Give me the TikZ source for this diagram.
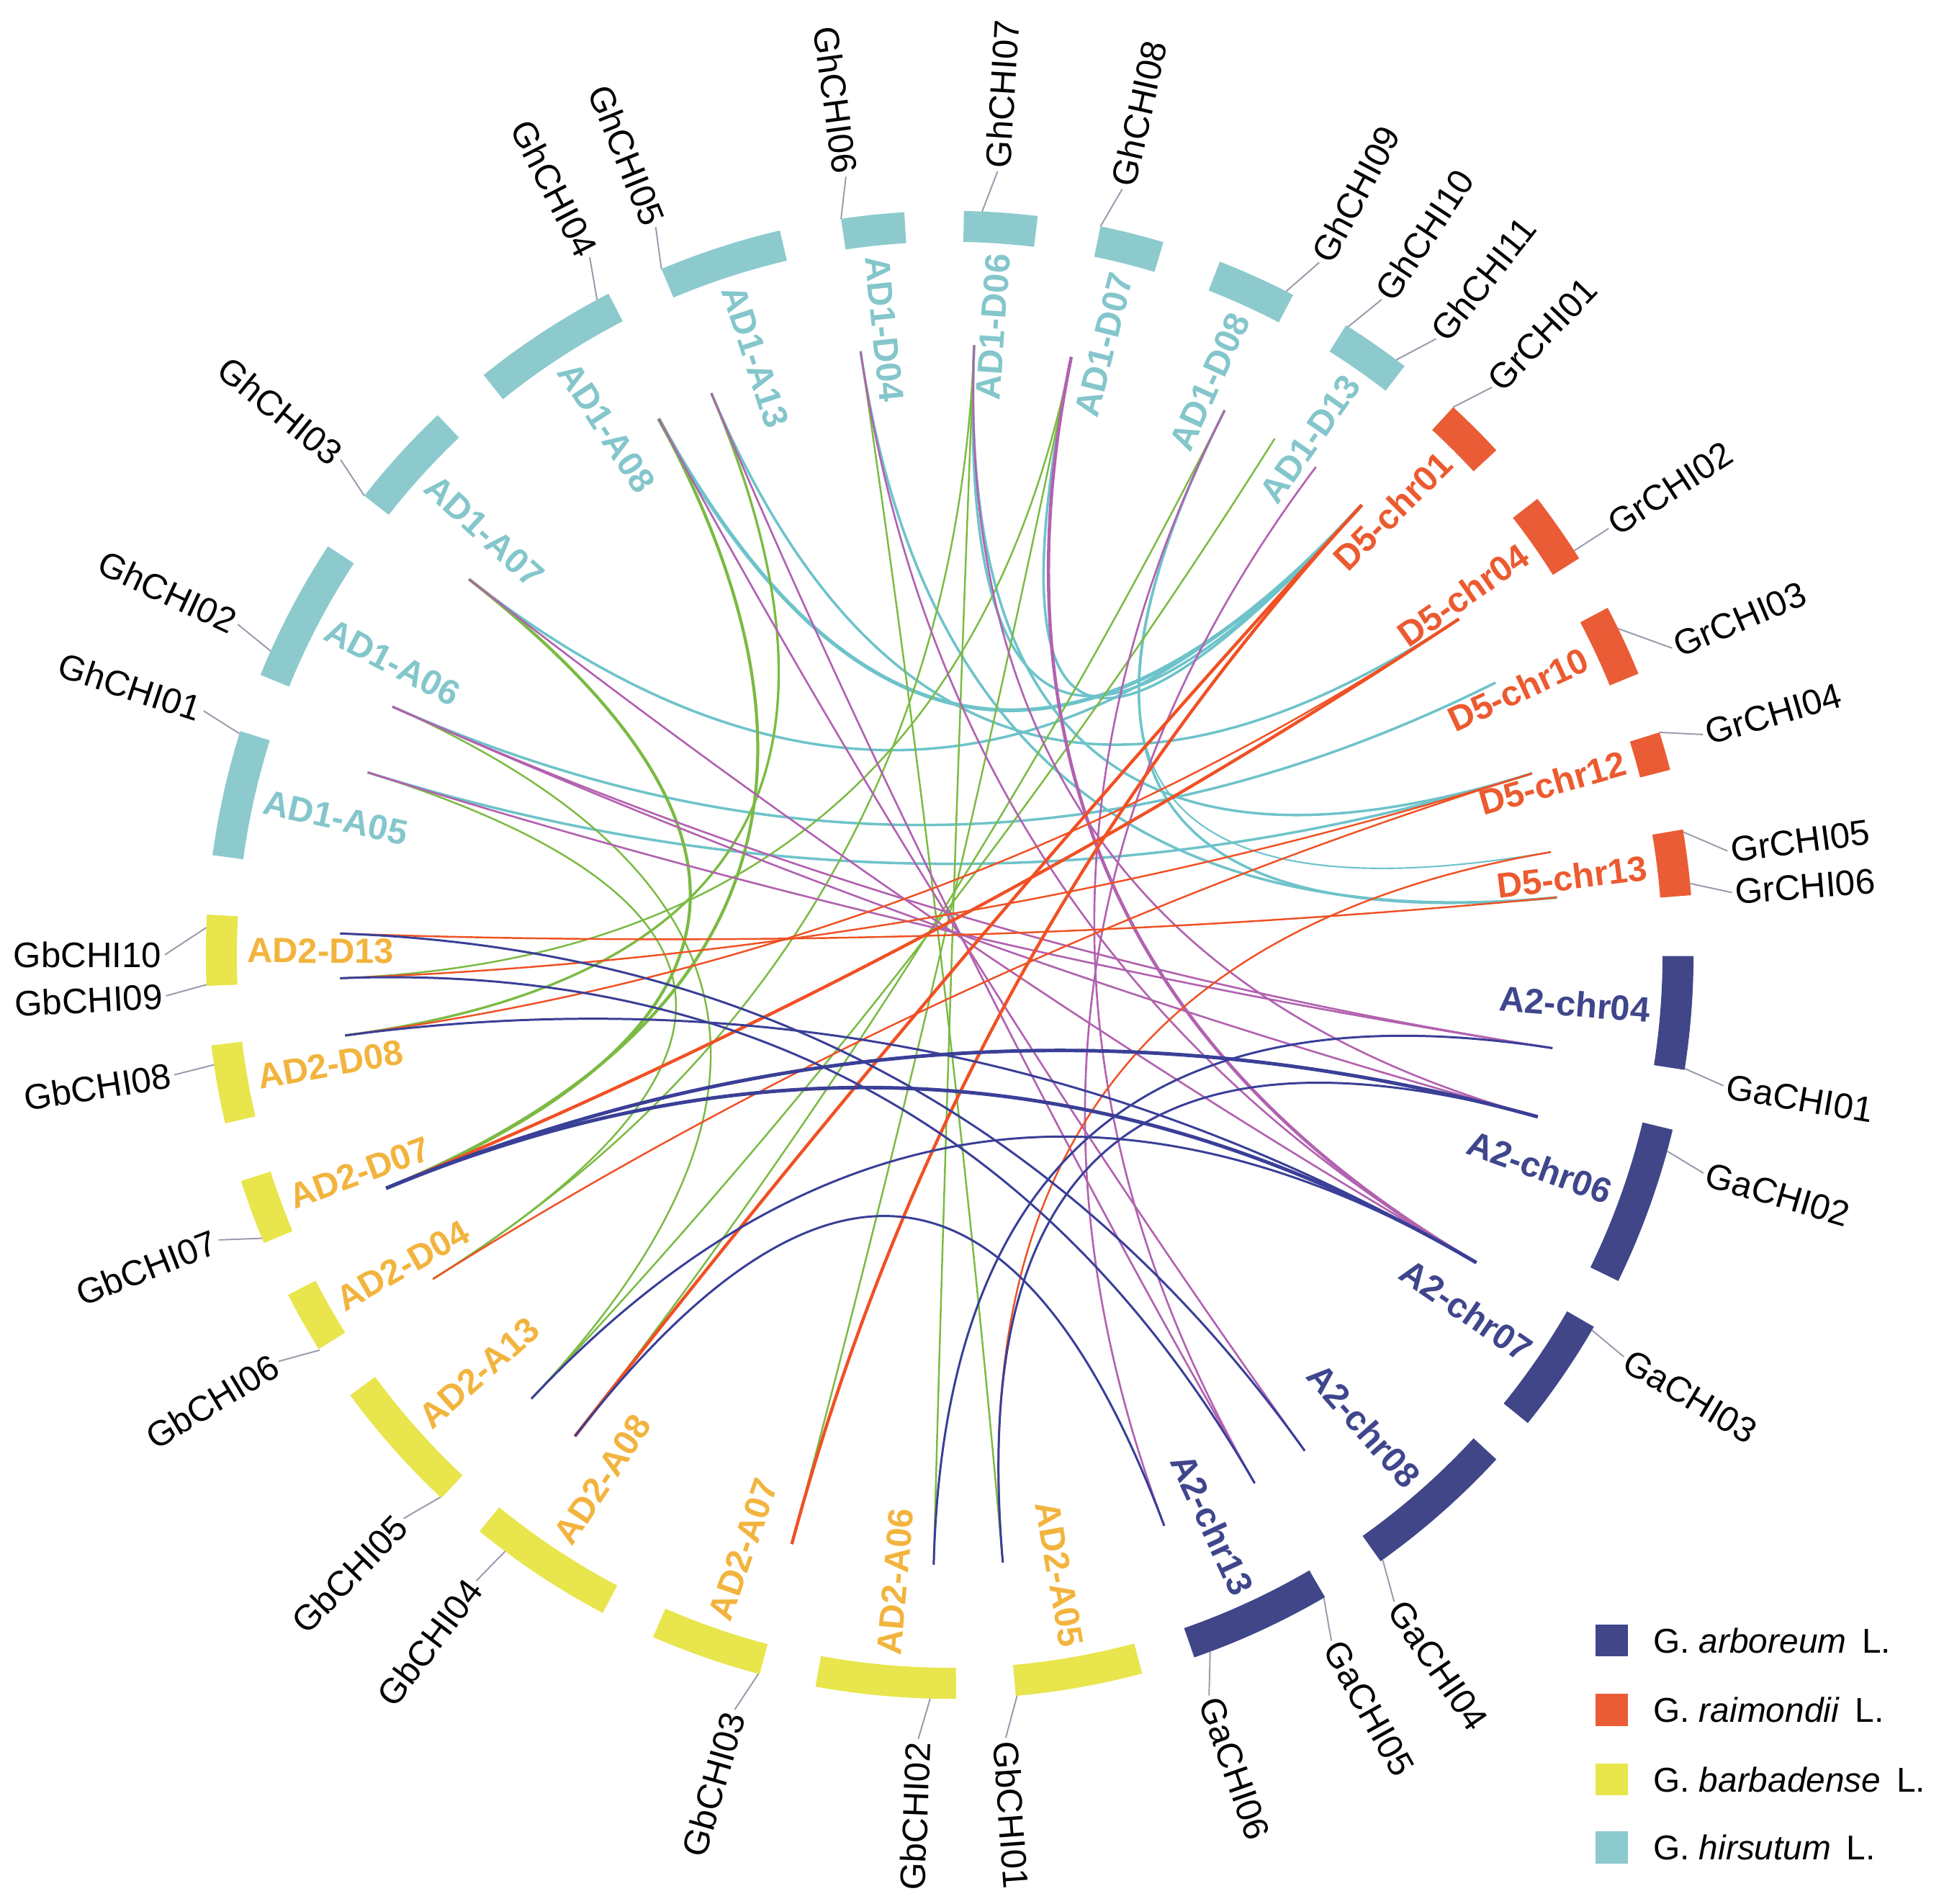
\documentclass[tikz,border=0pt]{standalone}
\usepackage{fontspec}
\setmainfont{Liberation Sans}
\usetikzlibrary{calc}
\definecolor{ghc}{HTML}{8DCACD}
\definecolor{grc}{HTML}{EA5C36}
\definecolor{gac}{HTML}{414689}
\definecolor{gbc}{HTML}{E8E54D}
\definecolor{ghtxt}{HTML}{84C6CB}
\definecolor{grtxt}{HTML}{EC5A30}
\definecolor{gatxt}{HTML}{3F468C}
\definecolor{gbtxt}{HTML}{F2B43E}
\definecolor{lteal}{HTML}{6EC3CA}
\definecolor{lgreen}{HTML}{7BBA43}
\definecolor{lpurple}{HTML}{B262B0}
\definecolor{lred}{HTML}{EF5124}
\definecolor{lblue}{HTML}{3A3F97}
\definecolor{leadc}{HTML}{9A99AC}
\tikzset{
  genet/.style={font=\fontsize{14}{16}\selectfont, inner sep=1.2pt, text=black},
  chrt/.style={font=\fontsize{13.9}{16}\selectfont\bfseries, inner sep=0pt},
  legt/.style={font=\fontsize{13.6}{16}\selectfont, inner sep=1pt, text=black},
  legsq/.style={minimum width=12.7pt, minimum height=12.7pt, inner sep=0pt, draw=none},
  leader/.style={draw=leadc, line width=0.55pt},
  lkT/.style={draw=lteal, line width=1pt},
  lkTf/.style={draw=lteal, line width=1.5pt},
  lkTt/.style={draw=lteal, line width=0.6pt},
  lkG/.style={draw=lgreen, line width=0.7pt},
  lkGm/.style={draw=lgreen, line width=0.95pt},
  lkGf/.style={draw=lgreen, line width=1.2pt},
  lkP/.style={draw=lpurple, line width=0.75pt},
  lkPf/.style={draw=lpurple, line width=1.3pt},
  lkR/.style={draw=lred, line width=0.7pt},
  lkRf/.style={draw=lred, line width=1.25pt},
  lkB/.style={draw=lblue, line width=0.85pt},
  lkBf/.style={draw=lblue, line width=1.4pt},
}
\newcommand\chrarc[3]{\fill[#3] (#1:575) arc[start angle=#1, end angle=#2, radius=575] -- (#2:600) arc[start angle=#2, end angle=#1, radius=600] -- cycle;}
\newcommand\clink[3]{\draw[#3] (#1) .. controls ($(O)!0.3333!(#1)$) and ($(O)!0.3333!(#2)$) .. (#2);}
\newcommand\geneR[4]{\coordinate (#1s) at (#2:600); \node[genet,anchor=west,rotate=#3] (#1t) at (#3:633) {#4}; \draw[leader] (#1s) -- (#1t.west);}
\newcommand\geneL[4]{\coordinate (#1s) at (#2:600); \node[genet,anchor=east,rotate=#3+180] (#1t) at (#3:633) {#4}; \draw[leader] (#1s) -- (#1t.east);}
\newcommand\chrR[4]{\node[chrt,text=#4,anchor=east,rotate=#2] (#1) at (#2:567) {#3};}
\newcommand\chrL[4]{\node[chrt,text=#4,anchor=west,rotate=#2+180] (#1) at (#2:567) {#3};}
\begin{document}
\begin{tikzpicture}[x=0.0172194cm, y=0.0172194cm]
\useasboundingbox (-766,-765) rectangle (802,770);
\coordinate (O) at (0,0);
% link ends
\coordinate (Gh01) at (162.6:492);
\coordinate (Gh02) at (156:492);
\coordinate (Gh03) at (142:492);
\coordinate (Gh04) at (118.5:492);
\coordinate (Gh05) at (113:492);
\coordinate (Gh06) at (98.4:492);
\coordinate (Gh07) at (87.7:492);
\coordinate (Gh08) at (78.5:492);
\coordinate (Gh09) at (63.2:492);
\coordinate (Gh10) at (57.8:492);
\coordinate (Gh11) at (53.1:492);
\coordinate (Gr01) at (47.5:492);
\coordinate (Gr02) at (33.4:492);
\coordinate (Gr03) at (26.5:492);
\coordinate (Gr04) at (17.3:492);
\coordinate (Gr05) at (9.7:492);
\coordinate (Gr06) at (5.4:492);
\coordinate (Ga01) at (-8.8:492);
\coordinate (Ga02) at (-15.4:492);
\coordinate (Ga03) at (-30.3:492);
\coordinate (Ga04) at (-54.4:492);
\coordinate (Ga05) at (-60:492);
\coordinate (Ga06) at (-69.4:492);
\coordinate (Gb01) at (-85:492);
\coordinate (Gb02) at (-91.5:492);
\coordinate (Gb03) at (-105:492);
\coordinate (Gb04) at (-127.9:492);
\coordinate (Gb05) at (-133.3:492);
\coordinate (Gb06) at (-147.9:492);
\coordinate (Gb07) at (-157.5:492);
\coordinate (Gb08) at (-172.4:492);
\coordinate (Gb09) at (-177.8:492);
\coordinate (Gb10) at (178:492);
% teal links
\clink{Gh03}{Gr01}{lkT}
\clink{Gh04}{Gr01}{lkTf}
\clink{Gh08}{Gr01}{lkT}
\clink{Gh07}{Gr01}{lkT}
\clink{Gh05}{Gr02}{lkT}
\clink{Gh02}{Gr03}{lkT}
\clink{Gh01}{Gr04}{lkT}
\clink{Gh07}{Gr04}{lkT}
\clink{Gh09}{Gr06}{lkT}
\clink{Gh09}{Gr05}{lkTt}
\clink{Gh06}{Gr06}{lkT}
% green links
\clink{Gh03}{Gb07}{lkGf}
\clink{Gh04}{Gb07}{lkGf}
\clink{Gh05}{Gb08}{lkGm}
\clink{Gh02}{Gb05}{lkG}
\clink{Gh01}{Gb06}{lkG}
\clink{Gh08}{Gb09}{lkG}
\clink{Gh06}{Gb01}{lkG}
\clink{Gh07}{Gb02}{lkG}
\clink{Gh07}{Gb06}{lkG}
\clink{Gh08}{Gb03}{lkG}
\clink{Gh09}{Gb04}{lkG}
\clink{Gh10}{Gb05}{lkG}
% purple links
\clink{Gh01}{Ga01}{lkP}
\clink{Gh02}{Ga01}{lkP}
\clink{Gh02}{Ga02}{lkP}
\clink{Gh03}{Ga03}{lkP}
\clink{Gh04}{Ga04}{lkP}
\clink{Gh05}{Ga05}{lkP}
\clink{Gh06}{Ga03}{lkP}
\clink{Gh08}{Ga03}{lkPf}
\clink{Gh07}{Ga02}{lkP}
\clink{Gh09}{Ga05}{lkP}
\clink{Gh11}{Ga06}{lkP}
% red links
\clink{Gb07}{Gr02}{lkRf}
\clink{Gb04}{Gr01}{lkRf}
\clink{Gb03}{Gr01}{lkRf}
\clink{Gb06}{Gr04}{lkR}
\clink{Gb08}{Gr02}{lkR}
\clink{Gb09}{Gr04}{lkR}
\clink{Gb10}{Gr06}{lkR}
\clink{Gb01}{Gr05}{lkR}
% blue links
\clink{Gb10}{Ga04}{lkB}
\clink{Gb09}{Ga05}{lkB}
\clink{Gb08}{Ga03}{lkB}
\clink{Gb07}{Ga03}{lkBf}
\clink{Gb07}{Ga02}{lkBf}
\clink{Gb05}{Ga03}{lkB}
\clink{Gb04}{Ga06}{lkB}
\clink{Gb02}{Ga01}{lkB}
\clink{Gb01}{Ga02}{lkB}
% chromosome arcs
\chrarc{162.5}{172.3}{ghc}
\chrarc{146.7}{157.9}{ghc}
\chrarc{133.5}{141.9}{ghc}
\chrarc{117.3}{128.8}{ghc}
\chrarc{103.2}{112.8}{ghc}
\chrarc{93.5}{98.4}{ghc}
\chrarc{83.2}{88.9}{ghc}
\chrarc{73.3}{78.3}{ghc}
\chrarc{62.5}{68.7}{ghc}
\chrarc{52.3}{57.8}{ghc}
\chrarc{42.7}{47.4}{grc}
\chrarc{32.2}{37.8}{grc}
\chrarc{22.2}{27.8}{grc}
\chrarc{14.4}{17.4}{grc}
\chrarc{4.6}{9.7}{grc}
\chrarc{-8.9}{-0.1}{gac}
\chrarc{-26}{-13.6}{gac}
\chrarc{-39}{-30}{gac}
\chrarc{-54.6}{-42.7}{gac}
\chrarc{-70.8}{-59.7}{gac}
\chrarc{-84.9}{-75}{gbc}
\chrarc{-100.4}{-89.5}{gbc}
\chrarc{-113.5}{-104.8}{gbc}
\chrarc{-129.2}{-117.8}{gbc}
\chrarc{-143.7}{-133.1}{gbc}
\chrarc{-152.8}{-148}{gbc}
\chrarc{-162.3}{-157.2}{gbc}
\chrarc{-173}{-166.9}{gbc}
\chrarc{176.9}{182.4}{gbc}
% chromosome labels
\chrL{cA05}{167.4}{AD1-A05}{ghtxt}
\chrL{cA06}{152.3}{AD1-A06}{ghtxt}
\chrL{cA07}{137.7}{AD1-A07}{ghtxt}
\chrL{cA08}{123.05}{AD1-A08}{ghtxt}
\chrL{cA13}{108}{AD1-A13}{ghtxt}
\chrL{cD04}{95.95}{AD1-D04}{ghtxt}
\chrR{cD06}{86.05}{AD1-D06}{ghtxt}
\chrR{cD07}{75.8}{AD1-D07}{ghtxt}
\chrR{cD08}{65.6}{AD1-D08}{ghtxt}
\chrR{cD13}{55.05}{AD1-D13}{ghtxt}
\chrR{r01}{45.05}{D5-chr01}{grtxt}
\chrR{r04}{35}{D5-chr04}{grtxt}
\chrR{r10}{25}{D5-chr10}{grtxt}
\chrR{r12}{15.9}{D5-chr12}{grtxt}
\chrR{r13}{7.15}{D5-chr13}{grtxt}
\chrR{a04}{-4.5}{A2-chr04}{gatxt}
\chrR{a06}{-19.8}{A2-chr06}{gatxt}
\chrR{a07}{-34.5}{A2-chr07}{gatxt}
\chrR{a08}{-48.65}{A2-chr08}{gatxt}
\chrR{a13}{-65.25}{A2-chr13}{gatxt}
\chrR{bA05}{-79.95}{AD2-A05}{gbtxt}
\chrL{bA06}{-94.95}{AD2-A06}{gbtxt}
\chrL{bA07}{-109.15}{AD2-A07}{gbtxt}
\chrL{bA08}{-123.5}{AD2-A08}{gbtxt}
\chrL{bA13}{-138.4}{AD2-A13}{gbtxt}
\chrL{bD04}{-150.4}{AD2-D04}{gbtxt}
\chrL{bD07}{-159.75}{AD2-D07}{gbtxt}
\chrL{bD08}{-169.95}{AD2-D08}{gbtxt}
\chrL{bD13}{179.65}{AD2-D13}{gbtxt}
% gene labels
\geneL{h1}{162.7}{161.9}{GhCHI01}
\geneL{h2}{155.9}{155.1}{GhCHI02}
\geneL{h3}{141.9}{140.9}{GhCHI03}
\geneL{h4}{118.3}{117.3}{GhCHI04}
\geneL{h5}{112.8}{112.0}{GhCHI05}
\geneL{h6}{98.4}{97.6}{GhCHI06}
\geneR{h7}{87.5}{86.5}{GhCHI07}
\geneR{h8}{78.3}{77.3}{GhCHI08}
\geneR{h9}{63.1}{61.9}{GhCHI09}
\geneR{h10}{57.6}{56.6}{GhCHI10}
\geneR{h11}{53.1}{51.7}{GhCHI11}
\geneR{r1}{47.4}{46.3}{GrCHI01}
\geneR{r2}{32.9}{32.9}{GrCHI02}
\geneR{r3}{26.0}{23.0}{GrCHI03}
\geneR{r4}{17.4}{16.3}{GrCHI04}
\geneR{r5}{9.5}{7.6}{GrCHI05}
\geneR{r6}{5.5}{4.55}{GrCHI06}
\geneR{a1}{-8.8}{-9.6}{GaCHI01}
\geneR{a2}{-15.3}{-16.15}{GaCHI02}
\geneR{a3}{-30.3}{-30.8}{GaCHI03}
\geneR{a4}{-54.4}{-55.5}{GaCHI04}
\geneR{a5}{-59.8}{-60.9}{GaCHI05}
\geneR{a6}{-69.5}{-70.7}{GaCHI06}
\geneR{b1}{-84.8}{-85.9}{GbCHI01}
\geneL{b2}{-91.5}{-92.3}{GbCHI02}
\geneL{b3}{-104.9}{-105.9}{GbCHI03}
\geneL{b4}{-126.7}{-127.1}{GbCHI04}
\geneL{b5}{-133.2}{-134.1}{GbCHI05}
\geneL{b6}{-147.9}{-148.8}{GbCHI06}
\geneL{b7}{-157.6}{-158.7}{GbCHI07}
\geneL{b8}{-171.5}{-171.2}{GbCHI08}
\geneL{b9}{-177.7}{-177}{GbCHI09}
\geneL{b10}{177.9}{180}{GbCHI10}
% legend
\node[legsq, fill=gac] (sq1) at (534,-553) {};
\node[legsq, fill=grc] (sq2) at (534,-609) {};
\node[legsq, fill=gbc] (sq3) at (534,-665) {};
\node[legsq, fill=ghc] (sq4) at (534,-720) {};
\node[legt, anchor=west] (lg1) at (565,-553) {G.~\textit{arboreum}\hspace{0.45em}L.};
\node[legt, anchor=west] (lg2) at (565,-609) {G.~\textit{raimondii}\hspace{0.45em}L.};
\node[legt, anchor=west] (lg3) at (565,-665) {G.~\textit{barbadense}\hspace{0.45em}L.};
\node[legt, anchor=west] (lg4) at (565,-720) {G.~\textit{hirsutum}\hspace{0.45em}L.};
\end{tikzpicture}
\end{document}
